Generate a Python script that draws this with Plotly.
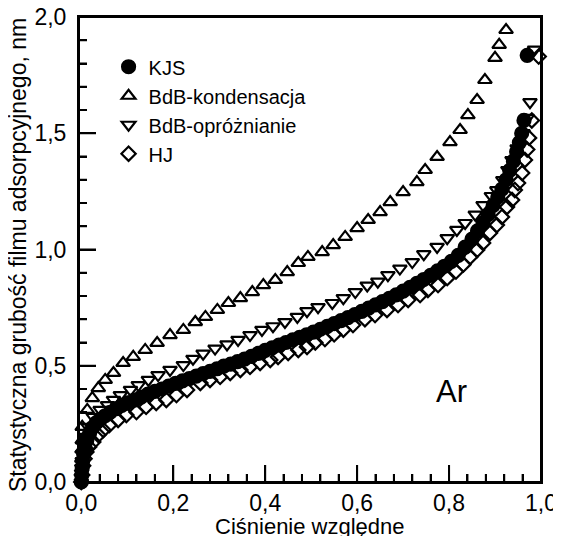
import plotly.graph_objects as go

# ---- data ----
kjs_x = [0.000, 0.001, 0.002, 0.003, 0.005, 0.008, 0.012, 0.018, 0.025, 0.033, 0.042, 0.052,
         0.063, 0.075, 0.088, 0.100, 0.115, 0.130, 0.145, 0.160, 0.175, 0.190, 0.205, 0.220,
         0.235, 0.250, 0.265, 0.280, 0.295, 0.310, 0.325, 0.340, 0.355, 0.370, 0.385, 0.400,
         0.415, 0.430, 0.445, 0.460, 0.475, 0.490, 0.505, 0.520, 0.535, 0.550, 0.565, 0.580,
         0.595, 0.610, 0.625, 0.640, 0.655, 0.670, 0.685, 0.700, 0.715, 0.730, 0.745, 0.760,
         0.775, 0.790, 0.805, 0.820, 0.835, 0.850, 0.862, 0.874, 0.885, 0.896, 0.906, 0.915,
         0.924, 0.932, 0.940, 0.947, 0.953, 0.958, 0.963, 0.970]
kjs_y = [0.00, 0.03, 0.06, 0.09, 0.12, 0.15, 0.18, 0.21, 0.235, 0.255, 0.27, 0.285,
         0.30, 0.315, 0.33, 0.34, 0.352, 0.365, 0.378, 0.39, 0.40, 0.412, 0.424, 0.435,
         0.445, 0.455, 0.466, 0.476, 0.487, 0.498, 0.507, 0.518, 0.529, 0.540, 0.553, 0.566,
         0.577, 0.589, 0.600, 0.611, 0.622, 0.633, 0.645, 0.657, 0.669, 0.681, 0.694, 0.707,
         0.720, 0.734, 0.748, 0.762, 0.776, 0.790, 0.805, 0.821, 0.837, 0.854, 0.871, 0.889,
         0.908, 0.928, 0.949, 0.975, 1.01, 1.045, 1.08, 1.115, 1.15, 1.19, 1.225, 1.26,
         1.30, 1.34, 1.38, 1.42, 1.46, 1.50, 1.555, 1.835]

kond_x = [0.000, 0.0005, 0.001, 0.0015, 0.002, 0.002, 0.013, 0.024, 0.037, 0.052, 0.070,
          0.091, 0.113, 0.139, 0.165, 0.193, 0.222, 0.248, 0.270, 0.296, 0.320, 0.346, 0.372,
          0.396, 0.422, 0.448, 0.472, 0.493, 0.524, 0.548, 0.574, 0.600, 0.624, 0.650, 0.672,
          0.700, 0.730, 0.748, 0.774, 0.802, 0.824, 0.841, 0.861, 0.878, 0.900, 0.909, 0.924]
kond_y = [0.02, 0.06, 0.10, 0.14, 0.18, 0.237, 0.31, 0.361, 0.404, 0.439, 0.469,
          0.512, 0.538, 0.568, 0.598, 0.632, 0.654, 0.688, 0.710, 0.740, 0.770, 0.791, 0.817,
          0.847, 0.869, 0.903, 0.942, 0.968, 0.989, 1.019, 1.054, 1.092, 1.127, 1.161, 1.204,
          1.247, 1.290, 1.342, 1.398, 1.462, 1.514, 1.578, 1.643, 1.729, 1.824, 1.880, 1.944]

opr_x = [0.000, 0.001, 0.002, 0.003, 0.005, 0.009, 0.015, 0.026, 0.041, 0.057, 0.070, 0.085,
         0.107, 0.124, 0.146, 0.167, 0.193, 0.222, 0.243, 0.265, 0.291, 0.317, 0.341, 0.367,
         0.393, 0.417, 0.443, 0.470, 0.491, 0.515, 0.546, 0.570, 0.596, 0.622, 0.645, 0.667,
         0.693, 0.720, 0.745, 0.774, 0.796, 0.817, 0.835, 0.857, 0.874, 0.892, 0.904, 0.917,
         0.928, 0.937, 0.948, 0.961, 0.970, 0.976, 0.986]
opr_y = [0.02, 0.06, 0.09, 0.12, 0.155, 0.194, 0.237, 0.28, 0.31, 0.331, 0.353, 0.374,
         0.396, 0.417, 0.439, 0.46, 0.482, 0.503, 0.530, 0.552, 0.574, 0.592, 0.611, 0.632,
         0.654, 0.670, 0.688, 0.710, 0.735, 0.752, 0.770, 0.791, 0.817, 0.845, 0.862, 0.890,
         0.918, 0.946, 0.980, 1.011, 1.049, 1.084, 1.114, 1.150, 1.191, 1.230, 1.255, 1.299,
         1.342, 1.385, 1.435, 1.501, 1.566, 1.634, 1.860]

hj_x = [0.000, 0.002, 0.004, 0.007, 0.011, 0.017, 0.026, 0.037, 0.048, 0.061, 0.080, 0.098,
        0.120, 0.141, 0.163, 0.185, 0.207, 0.230, 0.259, 0.280, 0.302, 0.324, 0.346, 0.367,
        0.389, 0.411, 0.428, 0.450, 0.472, 0.491, 0.509, 0.530, 0.550, 0.570, 0.591, 0.617,
        0.639, 0.665, 0.689, 0.711, 0.737, 0.754, 0.776, 0.796, 0.815, 0.831, 0.846, 0.861,
        0.874, 0.889, 0.904, 0.915, 0.926, 0.937, 0.943, 0.950, 0.959, 0.965, 0.970, 0.974,
        0.980, 0.995]
hj_y = [0.00, 0.03, 0.07, 0.10, 0.129, 0.151, 0.172, 0.202, 0.224, 0.245, 0.267, 0.288,
        0.301, 0.323, 0.340, 0.353, 0.374, 0.396, 0.426, 0.439, 0.452, 0.469, 0.482, 0.495,
        0.512, 0.525, 0.538, 0.555, 0.568, 0.581, 0.600, 0.615, 0.635, 0.655, 0.675, 0.700,
        0.718, 0.740, 0.761, 0.783, 0.804, 0.826, 0.847, 0.877, 0.905, 0.935, 0.968, 0.998,
        1.028, 1.071, 1.105, 1.140, 1.183, 1.213, 1.256, 1.286, 1.329, 1.385, 1.430, 1.480,
        1.555, 1.830]

names = ["KJS", "BdB-kondensacja", "BdB-opróżnianie", "HJ"]
x_range = [-0.005, 1.0]
y_range = [0.0, 2.0]
x_major = [0.0, 0.2, 0.4, 0.6, 0.8, 1.0]
y_major = [0.0, 0.5, 1.0, 1.5, 2.0]
x_minor = [round(0.04 * i, 2) for i in range(1, 25) if i % 5 != 0]
y_minor = [round(0.1 * i, 1) for i in range(1, 20) if i % 5 != 0]

FONT = "Liberation Sans, Arial, sans-serif"
W, H = 553, 528
ML, MR, MT, MB = 71, 20, 9, 54
PW, PH = W - ML - MR, H - MT - MB          # plot area in px
PX = 1.0 / PW                              # one pixel in paper units (x)
PY = 1.0 / PH                              # one pixel in paper units (y)
MAJOR_LEN, MINOR_LEN, HALF_W = 17, 8, 1.0


def px_x(v):
    return (v - x_range[0]) / (x_range[1] - x_range[0])


def px_y(v):
    return (v - y_range[0]) / (y_range[1] - y_range[0])


fig = go.Figure()
series = [
    (kjs_x, kjs_y, names[0], "circle", 13),
    (kond_x, kond_y, names[1], "triangle-up-open", 12),
    (opr_x, opr_y, names[2], "triangle-down-open", 12),
    (hj_x, hj_y, names[3], "diamond-open", 11),
]
for xs, ys, nm, sym, sz in series:
    fig.add_trace(go.Scatter(
        x=xs, y=ys, name=nm, mode="markers", legendgroup=nm, cliponaxis=False,
        marker=dict(symbol=sym, size=sz, color="black",
                    line=dict(color="black", width=2.2)),
    ))

# frame: black rectangle with a white rectangle inset by the line thickness
fig.add_shape(type="rect", xref="paper", yref="paper", layer="below",
              x0=-HALF_W * PX, x1=1 + HALF_W * PX, y0=-HALF_W * PY, y1=1 + HALF_W * PY,
              fillcolor="black", opacity=1, line=dict(width=0))
fig.add_shape(type="rect", xref="paper", yref="paper", layer="below",
              x0=HALF_W * PX, x1=1 - HALF_W * PX, y0=HALF_W * PY, y1=1 - HALF_W * PY,
              fillcolor="white", opacity=1, line=dict(width=0))

# tick marks as thin filled rectangles, pointing into the plot
TICK = dict(type="rect", xref="paper", yref="paper", layer="above",
            fillcolor="black", opacity=1, line=dict(width=0))
for vals, ln in ((x_major, MAJOR_LEN), (x_minor, MINOR_LEN)):
    for v in vals:
        c = px_x(v)
        fig.add_shape(x0=c - HALF_W * PX, x1=c + HALF_W * PX, y0=0, y1=ln * PY, **TICK)
for vals, ln in ((y_major, MAJOR_LEN), (y_minor, MINOR_LEN)):
    for v in vals:
        c = px_y(v)
        fig.add_shape(x0=0, x1=ln * PX, y0=c - HALF_W * PY, y1=c + HALF_W * PY, **TICK)


def axis_style(rng, dtick, minor_dtick, standoff):
    return dict(
        range=rng, showgrid=False, zeroline=False,
        showline=True, linecolor="black", linewidth=2, mirror=True,
        ticks="inside", ticklen=MAJOR_LEN, tickwidth=2, tickcolor="black",
        tickmode="linear", tick0=0, dtick=dtick,
        minor=dict(ticks="inside", dtick=minor_dtick, tick0=0, ticklen=MINOR_LEN,
                   tickwidth=2, tickcolor="black", showgrid=False),
        automargin=False, ticklabelstandoff=standoff, ticklabeloverflow="allow",
        tickfont=dict(family=FONT, size=23, color="black"), tickformat=".1f",
        layer="above traces",
    )


fig.add_annotation(text="Ciśnienie względne", xref="paper", yref="paper",
                   x=0.5, y=-0.096, xanchor="center", yanchor="middle", showarrow=False,
                   font=dict(family=FONT, size=22, color="black"))
fig.add_annotation(text="Statystyczna grubość filmu adsorpcyjnego, nm", xref="paper",
                   yref="paper", x=-0.133, y=0.487, xanchor="center", yanchor="middle",
                   textangle=-90, showarrow=False,
                   font=dict(family=FONT, size=23, color="black"))
fig.add_annotation(text="Ar", xref="paper", yref="paper", x=0.807, y=0.194,
                   xanchor="center", yanchor="middle", showarrow=False,
                   font=dict(family=FONT, size=31, color="black"))

fig.update_layout(
    width=W, height=H,
    margin=dict(l=ML, r=MR, t=MT, b=MB, pad=0),
    paper_bgcolor="white", plot_bgcolor="rgba(0,0,0,0)",
    separators=", ",
    showlegend=True,
    xaxis=axis_style(x_range, 0.2, 0.04, -1),
    yaxis=axis_style(y_range, 0.5, 0.1, 6),
    legend=dict(x=0.064, y=0.935, xanchor="left", yanchor="top",
                bgcolor="rgba(0,0,0,0)", tracegroupgap=0,
                font=dict(family=FONT, size=20, color="black")),
)

fig.write_html("out.html")
